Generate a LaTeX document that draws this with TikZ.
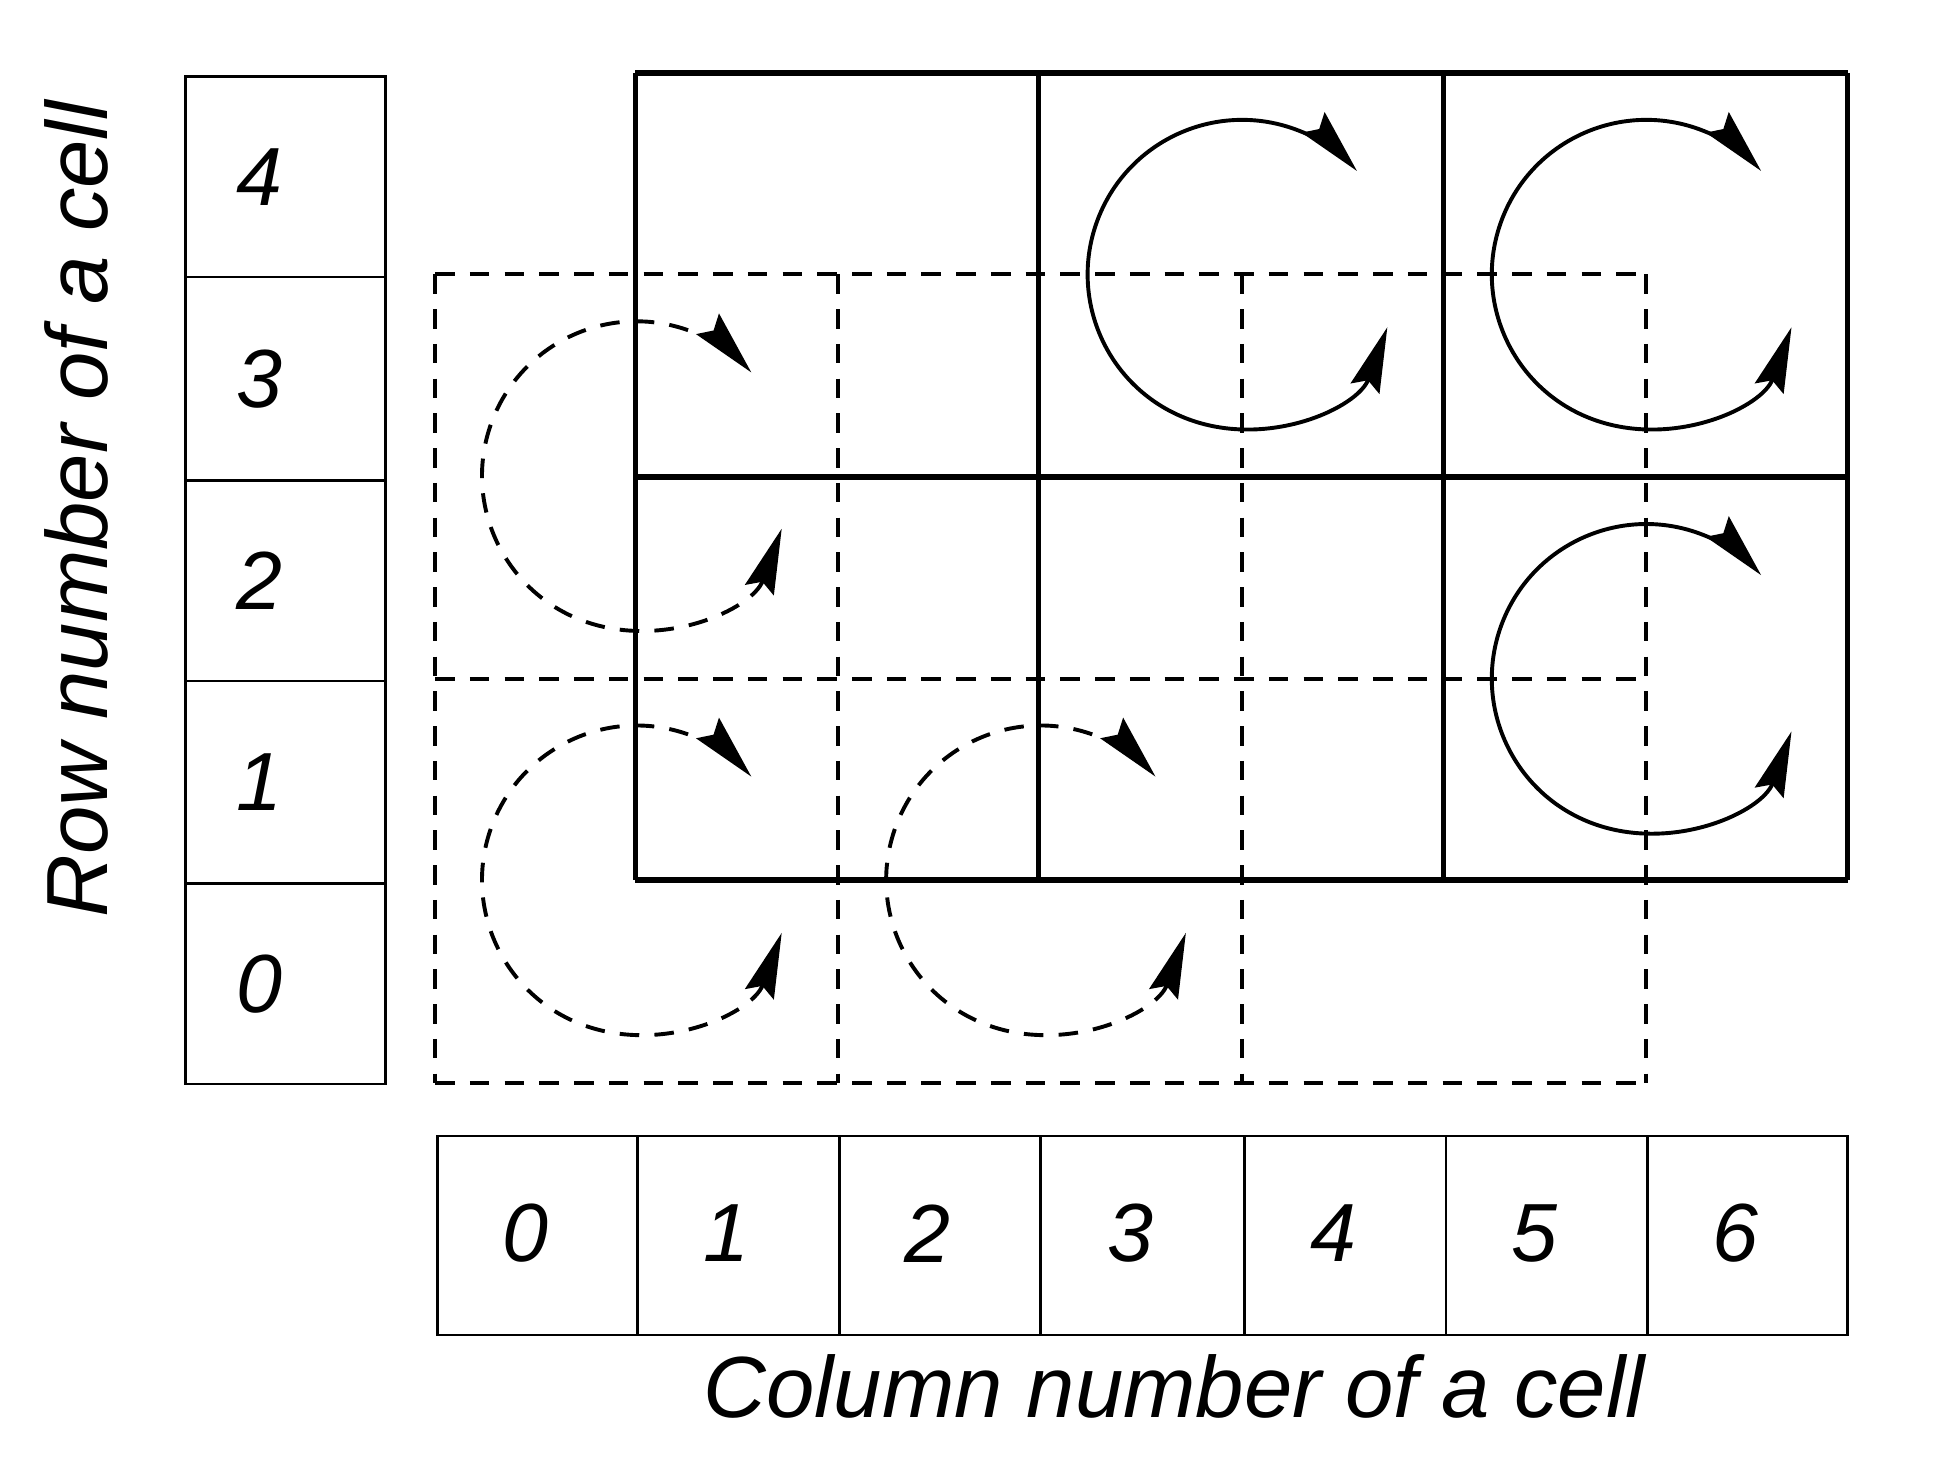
\documentclass[tikz,border=0pt]{standalone}
\usepackage{fontspec}
\setmainfont{Liberation Sans}
\usetikzlibrary{arrows.meta}
\begin{document}
\begin{tikzpicture}[x=0.02cm,y=-0.02cm,
  lbl/.style={font=\fontsize{38}{44}\selectfont\itshape},
  ttl/.style={font=\fontsize{40}{46}\selectfont\itshape},
  solidgrid/.style={line width=2.4pt},
  dgrid/.style={line width=1.8pt,dash pattern=on 9pt off 7pt},
  thin/.style={line width=1.2pt},
  rot/.style={line width=1.8pt,{Stealth[length=30pt,width=14pt,inset=4pt]}-{Stealth[length=30pt,width=14pt,inset=4pt]}},
  drot/.style={rot,dash pattern=on 9pt off 7pt}]
\useasboundingbox (0,0) rectangle (1568,1193);
% row labels
\foreach \t/\b/\n in {62/224/4,224/389/3,389/551/2,551/715/1,715/877/0}{
  \draw[thin] (150,\t) rectangle (312,\b);
  \node[lbl] (r\n) at (210,{(\t+\b)/2}) {\n};}
% column labels
\foreach \a/\b/\n in {354/516/0,516/679/1,679/842/2,842/1007/3,1007/1170/4,1170/1333/5,1333/1495/6}{
  \draw[thin] (\a,919) rectangle (\b,1080);
  \node[lbl] (c\n) at ({(\a+\b)/2-10},998) {\n};}
\node[ttl,rotate=90] (rowt) at (62,412) {Row number of a cell};
\node[ttl] (colt) at (950,1122) {Column number of a cell};
% dashed grid
\foreach \x in {352,678,1005,1332} \draw[dgrid] (\x,222) -- (\x,876);
\foreach \y in {222,549,876} \draw[dgrid] (352,\y) -- (1332,\y);
% solid grid
\foreach \x in {514,840,1168,1495} \draw[solidgrid] (\x,59) -- (\x,712);
\foreach \y in {59,386,712} \draw[solidgrid] (514,\y) -- (1495,\y);
% rotations
\foreach \cx/\cy in {1005/222,1332/222,1332/549}
  \draw[rot] (\cx,\cy) ++(20:125) arc[start angle=20,end angle=318,radius=125];
\foreach \cx/\cy in {515/385,515/712,842/712}
  \draw[drot] (\cx,\cy) ++(20:125) arc[start angle=20,end angle=318,radius=125];
\end{tikzpicture}
\end{document}
